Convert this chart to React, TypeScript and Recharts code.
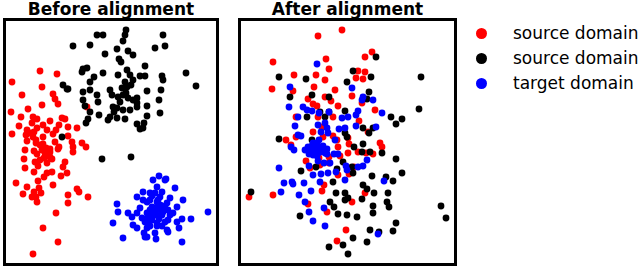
import React from "react";
import { ScatterChart, Scatter, XAxis, YAxis } from "recharts";

// point positions, [x, y] with y growing downward
const beforeSourceA = [
  [40, 71], [57, 74], [12, 82], [42, 87], [22, 95], [53, 94], [55, 99], [58, 104], [42, 105], [87, 107],
  [28, 109], [11, 112], [21, 117], [33, 117], [37, 119], [50, 121], [62, 118], [65, 119], [19, 126], [32, 123],
  [43, 125], [59, 125], [68, 127], [77, 128], [27, 130], [37, 128], [47, 130], [56, 130], [12, 134], [26, 135],
  [33, 137], [43, 137], [53, 134], [68, 136], [27, 141], [36, 143], [43, 144], [55, 142], [72, 142], [82, 143],
  [59, 147], [73, 147], [86, 147], [25, 150], [34, 151], [45, 151], [50, 149], [58, 149], [73, 152], [37, 154],
  [47, 154], [50, 157], [24, 159], [40, 160], [52, 159], [35, 162], [65, 162], [47, 163], [38, 166], [25, 168],
  [63, 167], [34, 172], [47, 173], [52, 172], [67, 173], [61, 176], [44, 177], [38, 181], [16, 183], [53, 185],
  [27, 187], [39, 188], [77, 189], [79, 192], [34, 192], [23, 194], [41, 193], [68, 195], [32, 197], [36, 197],
  [88, 197], [37, 202], [68, 203], [56, 213], [43, 228], [58, 242], [33, 254], [45, 153], [48, 156], [42, 150],
  [46, 148], [50, 152], [44, 158], [40, 145], [36, 140], [30, 133], [34, 132],
];
const beforeSourceB = [
  [126, 30], [125, 35], [97, 35], [103, 35], [163, 35], [123, 41], [73, 46], [90, 45], [165, 46], [155, 48],
  [117, 49], [128, 51], [105, 54], [133, 55], [119, 59], [121, 62], [145, 66], [83, 69], [87, 68], [82, 72],
  [103, 73], [127, 70], [118, 75], [130, 75], [140, 76], [145, 76], [162, 76], [186, 73], [94, 77], [90, 82],
  [63, 85], [125, 82], [133, 80], [163, 80], [196, 86], [68, 89], [83, 92], [90, 90], [110, 90], [122, 88],
  [127, 87], [147, 91], [161, 90], [97, 95], [112, 95], [118, 97], [123, 95], [83, 100], [128, 98], [133, 100],
  [137, 98], [159, 100], [98, 102], [120, 102], [137, 103], [85, 106], [113, 107], [117, 108], [123, 110], [147, 106],
  [90, 112], [130, 110], [137, 107], [160, 113], [99, 115], [110, 117], [117, 118], [125, 119], [147, 116], [88, 119],
  [108, 120], [86, 123], [137, 124], [144, 123], [140, 129], [143, 128], [62, 137], [102, 159], [131, 157], [67, 89],
  [126, 93], [131, 85], [114, 112],
];
const beforeTarget = [
  [159, 176], [153, 180], [165, 180], [157, 187], [175, 188], [143, 192], [150, 193], [155, 193], [137, 197], [160, 197],
  [170, 198], [183, 200], [147, 202], [157, 202], [167, 203], [117, 204], [152, 207], [162, 206], [177, 207], [118, 212],
  [128, 213], [137, 213], [147, 213], [155, 213], [163, 212], [173, 213], [208, 212], [132, 217], [142, 218], [152, 220],
  [159, 219], [168, 220], [182, 219], [191, 219], [113, 223], [133, 225], [148, 223], [157, 223], [165, 222], [177, 222],
  [137, 228], [147, 228], [167, 230], [179, 228], [144, 233], [155, 233], [123, 238], [147, 237], [156, 239], [182, 242],
  [150, 200], [152, 196], [158, 200], [160, 205], [155, 208], [150, 210], [160, 210], [165, 208], [153, 215], [158, 216],
  [162, 215], [148, 218], [157, 226], [150, 226], [162, 226], [145, 222], [170, 215], [168, 210], [140, 208], [143, 200],
  [168, 232], [145, 237], [162, 192], [166, 179],
];

const afterSourceA = [
  [342, 30], [318, 36], [372, 52], [365, 57], [273, 62], [326, 59], [329, 69], [358, 71], [365, 72], [294, 75],
  [316, 75], [356, 78], [363, 79], [325, 80], [272, 89], [293, 91], [314, 87], [335, 90], [308, 99], [325, 97],
  [331, 101], [352, 96], [313, 104], [317, 106], [338, 106], [362, 103], [375, 110], [296, 117], [318, 117], [333, 117],
  [359, 121], [322, 127], [286, 140], [313, 132], [323, 137], [333, 136], [348, 138], [337, 140], [368, 132], [296, 137],
  [291, 145], [338, 147], [349, 144], [380, 143], [382, 147], [306, 161], [319, 158], [329, 157], [340, 156], [348, 153],
  [358, 152], [366, 153], [373, 154], [320, 165], [329, 163], [338, 175], [349, 174], [354, 167], [324, 185], [322, 191],
  [310, 168], [273, 195], [249, 197], [365, 193], [352, 202], [308, 204], [327, 212], [346, 230], [337, 241],
];
const afterSourceB = [
  [376, 57], [421, 77], [279, 77], [306, 79], [353, 71], [371, 77], [347, 82], [290, 97], [312, 95], [329, 97],
  [369, 92], [367, 99], [419, 109], [320, 112], [329, 112], [345, 111], [307, 117], [325, 117], [391, 117], [402, 119],
  [396, 124], [363, 128], [373, 128], [369, 133], [279, 139], [312, 140], [345, 133], [347, 137], [354, 147], [363, 144],
  [362, 152], [343, 162], [352, 167], [370, 152], [382, 153], [301, 171], [316, 167], [337, 169], [353, 173], [372, 176],
  [396, 159], [402, 173], [386, 177], [333, 182], [363, 185], [336, 193], [345, 193], [374, 193], [388, 193], [393, 181],
  [367, 189], [251, 192], [330, 202], [345, 200], [348, 198], [362, 199], [373, 206], [387, 202], [389, 207], [334, 207],
  [300, 216], [338, 214], [347, 215], [357, 217], [373, 213], [441, 206], [446, 218], [396, 223], [370, 230], [379, 232],
  [393, 231], [353, 238], [367, 242], [329, 247], [343, 245], [348, 254],
];
const afterTarget = [
  [317, 64], [290, 87], [352, 88], [363, 97], [362, 100], [373, 100], [289, 107], [303, 107], [307, 110], [312, 111],
  [319, 113], [329, 112], [358, 111], [356, 115], [382, 113], [298, 117], [342, 118], [348, 117], [295, 126], [318, 125],
  [325, 123], [327, 128], [345, 128], [356, 126], [376, 127], [298, 135], [301, 136], [321, 132], [328, 133], [339, 129],
  [335, 140], [291, 147], [294, 150], [308, 147], [313, 143], [317, 143], [323, 146], [314, 150], [320, 152], [327, 149],
  [309, 154], [317, 156], [327, 154], [334, 154], [338, 154], [318, 161], [324, 163], [330, 163], [309, 166], [346, 166],
  [347, 170], [358, 167], [363, 166], [367, 160], [279, 168], [313, 175], [321, 174], [328, 173], [336, 172], [345, 180],
  [284, 183], [292, 182], [293, 184], [304, 183], [320, 182], [384, 181], [281, 192], [311, 191], [299, 195], [305, 202],
  [324, 208], [309, 212], [313, 221], [325, 226], [378, 234], [312, 146], [316, 148], [320, 147], [310, 150], [322, 150],
  [318, 153], [313, 155], [325, 153], [305, 150], [319, 140],
];

const legendLabels = ["source domain", "source domain", "target domain"];
const COLORS = ["#ff0000", "#000000", "#0000ff"];
const FONT = "'DejaVu Sans', sans-serif";

const toPoints = (arr: number[][]) => arr.map(([x, y]) => ({ x, y }));

const Dot = (color: string) => (props: any) => (
  <circle cx={props.cx} cy={props.cy} r={3.4} fill={color} />
);

const Panel = ({ title, left, width, domainX, series }: any) => {
  const chartW = width - 6;
  const chartH = 242;
  return (
    <>
      <div
        style={{
          position: "absolute",
          left: left,
          top: -1,
          width: width,
          textAlign: "center",
          fontFamily: FONT,
          fontWeight: "bold",
          fontSize: 17,
          lineHeight: "20px",
        }}
      >
        {title}
      </div>
      <div
        style={{
          position: "absolute",
          left: left,
          top: 18,
          width: width,
          height: 248,
          border: "3px solid #000",
          boxSizing: "border-box",
        }}
      >
        <ScatterChart width={chartW} height={chartH} margin={{ top: 0, right: 0, bottom: 0, left: 0 }}>
          <XAxis type="number" dataKey="x" domain={domainX} hide allowDataOverflow />
          <YAxis type="number" dataKey="y" domain={[21, 263]} reversed hide allowDataOverflow />
          {series.map((s: number[][], i: number) => (
            <Scatter
              key={i}
              data={toPoints(s)}
              fill={COLORS[i]}
              shape={Dot(COLORS[i])}
              isAnimationActive={false}
            />
          ))}
        </ScatterChart>
      </div>
    </>
  );
};

export default function App() {
  return (
    <div style={{ position: "absolute", left: 0, top: 0, width: 640, height: 267, background: "#fff", overflow: "hidden" }}>
      <Panel
        title="Before alignment"
        left={3}
        width={216}
        domainX={[6, 216]}
        series={[beforeSourceA, beforeSourceB, beforeTarget]}
      />
      <Panel
        title="After alignment"
        left={238}
        width={219}
        domainX={[241, 454]}
        series={[afterSourceA, afterSourceB, afterTarget]}
      />
      {legendLabels.map((label, i) => (
        <div
          key={i}
          style={{
            position: "absolute",
            left: 476,
            top: 33 + i * 25 - 10,
            height: 20,
            display: "flex",
            alignItems: "center",
            fontFamily: FONT,
            fontSize: 17,
            whiteSpace: "nowrap",
            color: "#000",
          }}
        >
          <span
            style={{
              display: "inline-block",
              width: 11,
              height: 11,
              borderRadius: "50%",
              background: COLORS[i],
              marginRight: 26,
            }}
          ></span>
          <span>{label}</span>
        </div>
      ))}
    </div>
  );
}
